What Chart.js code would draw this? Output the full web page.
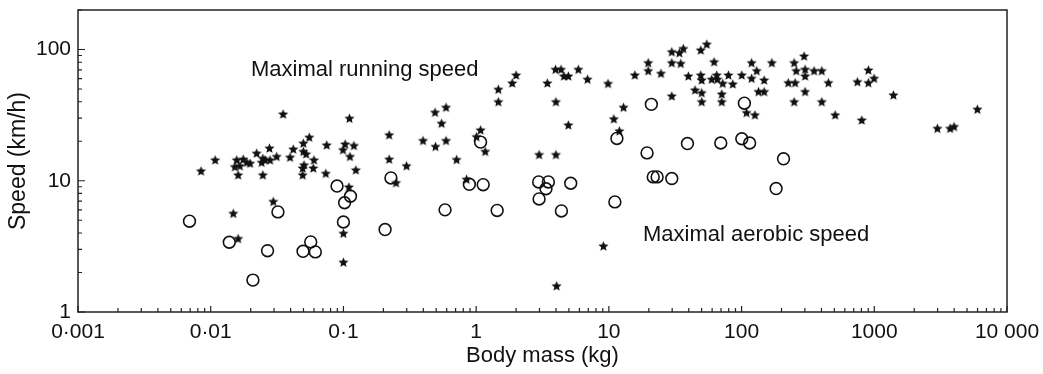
<!DOCTYPE html>
<html>
<head>
<meta charset="utf-8">
<script src="https://cdn.jsdelivr.net/npm/chart.js@4.4.0/dist/chart.umd.min.js"></script>
<style>
  html, body { margin: 0; padding: 0; background: #fff; }
</style>
</head>
<body>
<canvas id="speedChart" width="1043" height="374"></canvas>
<script>
// maximal running speed (stars): body mass kg, speed km/h
const runMass = [0.00845,0.0108,0.0157,0.0176,0.0152,0.0166,0.0161,0.0187,0.0198,0.0222,0.0247,0.0242,0.0257,0.0277,0.0280,0.0314,0.0247,0.0351,0.0396,0.0419,0.0499,0.0553,0.0499,0.0523,0.0505,0.0493,0.0493,0.0600,0.0593,0.0748,0.0736,0.0296,0.0148,0.0161,
  0.0993,0.112,0.103,0.120,0.124,0.111,0.110,0.100,0.100,
  0.221,0.221,0.299,0.249,
  0.490,0.593,0.549,0.398,0.494,0.593,0.712,0.847,
  1.007,1.08,1.17,
  1.47,1.47,1.87,2.0,
  3.44,3.96,4.36,4.59,4.95,5.89,6.91,3.99,4.95,2.98,3.99,4.04,
  9.1,9.86,10.9,12.9,12.0,
  15.7,19.8,19.8,24.7,29.8,34.0,36.4,29.8,34.8,49.3,54.7,62.1,39.7,49.3,50.1,59.6,65.0,65.7,72.1,79.6,85.9,100.4,29.8,44.6,50.1,50.1,70.9,70.9,109,126,
  119,130,119,148,169,134,148,249,296,258,301,352,402,301,225,253,451,301,249,402,507,805,903,746,903,997,1393,2990,3725,3993,5986];
const runSpeed = [11.8,14.3,14.3,14.5,12.7,12.9,11.0,13.7,13.5,16.1,14.7,13.7,14.3,17.6,14.3,15.2,11.0,32.0,15.0,17.3,19.2,21.3,16.6,15.9,13.1,12.4,11.0,14.3,12.4,18.6,11.3,6.9,5.6,3.6,
  17.1,15.2,18.9,18.4,12.0,29.7,8.9,3.95,2.38,
  22.2,14.5,12.9,9.6,
  33.0,36.0,27.2,20.1,18.1,20.1,14.4,10.2,
  21.5,24.2,16.6,
  49.4,39.7,55.1,63.4,
  55.1,70.1,70.1,62.3,62.3,70.1,58.9,39.7,26.4,15.7,15.7,1.57,
  3.16,54.7,29.4,36.0,23.8,
  63.4,78.7,68.4,65.3,95.4,93.7,101,78.7,77.8,98.3,109,80.0,62.3,63.4,58.1,58.9,63.4,58.9,54.8,63.4,54.2,63.4,43.9,48.8,46.5,39.7,45.5,39.7,32.8,31.5,
  78.7,68.4,59.9,58.1,78.7,47.4,47.4,78.7,88.5,68.4,70.1,68.4,68.4,62.3,55.4,55.4,55.4,47.4,39.7,39.7,31.5,28.8,69.2,56.4,55.4,59.9,44.7,24.9,24.9,25.7,34.8];

// maximal aerobic speed (circles)
const aerMass = [0.00692,0.0138,0.0208,0.0268,0.0321,0.0496,0.0567,0.0614,0.0895,0.102,
  0.100,0.113,0.206,0.228,0.583,0.889,1.13,1.08,1.44,2.96,
  3.50,3.36,2.98,5.16,4.39,11.5,11.1,20.9,19.4,21.6,
  23.1,29.8,39.1,69.7,100.4,115,105,207,182];
const aerSpeed = [4.92,3.40,1.75,2.93,5.79,2.90,3.42,2.87,9.11,6.80,
  4.85,7.62,4.25,10.5,6.0,9.4,9.33,19.7,5.94,9.79,
  9.79,8.69,7.27,9.57,5.89,21.0,6.9,38.2,16.3,10.7,
  10.7,10.4,19.2,19.4,20.9,19.4,39.0,14.7,8.72];

const xMajor = [0.001, 0.01, 0.1, 1, 10, 100, 1000, 10000];
const xTickLabels = ['0·001', '0·01', '0·1', '1', '10', '100', '1000', '10 000'];
const yMajor = [1, 10, 100];
const yTickLabels = ['1', '10', '100'];

const ink = '#111';
const fontFamily = '"Liberation Sans", Arial, Helvetica, sans-serif';

function makeStar(r) {
    const size = Math.ceil(r * 2) + 2;
    const c = document.createElement('canvas');
    c.width = size;
    c.height = size;
    const g = c.getContext('2d');
    g.beginPath();
    for (let i = 0; i < 10; i++) {
        const a = -Math.PI / 2 + i * Math.PI / 5;
        const rr = i % 2 ? r * 0.45 : r;
        g.lineTo(size / 2 + rr * Math.cos(a), size / 2 + rr * Math.sin(a));
    }
    g.closePath();
    g.fillStyle = ink;
    g.fill();
    return c;
}

// 1..9 per decade between the first and last major value
function logTicks(majors) {
    const out = [];
    for (let i = 0; i < majors.length - 1; i++) {
        for (let m = 1; m < 10; m++) out.push(majors[i] * m);
    }
    out.push(majors[majors.length - 1]);
    return out;
}

function labelFor(majors, labels, v) {
    const i = majors.findIndex(m => Math.abs(Math.log10(m) - Math.log10(v)) < 1e-6);
    return i >= 0 ? labels[i] : '';
}

function isMajor(majors, v) {
    return majors.some(m => Math.abs(Math.log10(m) - Math.log10(v)) < 1e-6);
}

const framePlugin = {
    id: 'frame',
    afterDatasetsDraw(chart) {
        const { ctx, chartArea: a, scales } = chart;
        ctx.save();
        ctx.strokeStyle = '#222';
        ctx.lineWidth = 1.5;
        ctx.strokeRect(a.left, a.top, a.right - a.left, a.bottom - a.top);

        ctx.lineWidth = 1.2;
        ctx.beginPath();
        scales.x.ticks.forEach(t => {
            const px = scales.x.getPixelForValue(t.value);
            const len = isMajor(xMajor, t.value) ? 6 : 4;
            ctx.moveTo(px, a.bottom);
            ctx.lineTo(px, a.bottom - len);
        });
        scales.y.ticks.forEach(t => {
            const py = scales.y.getPixelForValue(t.value);
            const len = isMajor(yMajor, t.value) ? 7 : 4;
            ctx.moveTo(a.left, py);
            ctx.lineTo(a.left + len, py);
        });
        ctx.stroke();

        ctx.fillStyle = ink;
        ctx.font = '22px ' + fontFamily;
        ctx.textBaseline = 'alphabetic';
        ctx.fillText('Maximal running speed', 251, 76);
        ctx.fillText('Maximal aerobic speed', 643, 241);
        ctx.restore();
    }
};

const ctx = document.getElementById('speedChart').getContext('2d');
new Chart(ctx, {
    type: 'scatter',
    data: {
        datasets: [{
            label: 'Maximal running speed',
            data: runMass.map((m, i) => ({ x: m, y: runSpeed[i] })),
            pointStyle: makeStar(5.3),
            pointRadius: 5
        }, {
            label: 'Maximal aerobic speed',
            data: aerMass.map((m, i) => ({ x: m, y: aerSpeed[i] })),
            pointStyle: 'circle',
            pointRadius: 5.9,
            borderWidth: 1.6,
            borderColor: ink,
            backgroundColor: 'rgba(0,0,0,0)'
        }]
    },
    options: {
        responsive: false,
        animation: false,
        layout: { padding: { top: 10, right: 36, left: 0, bottom: 0 } },
        plugins: { legend: { display: false }, tooltip: { enabled: false } },
        scales: {
            x: {
                type: 'logarithmic',
                min: 0.001,
                max: 10000,
                grid: { display: false, drawTicks: false },
                border: { display: false },
                afterBuildTicks: s => { s.ticks = logTicks(xMajor).map(v => ({ value: v })); },
                afterFit: s => {
                    s.height = 62;
                    s.paddingLeft = 0;
                    s.paddingRight = 0;
                },
                ticks: {
                    autoSkip: false,
                    maxRotation: 0,
                    padding: 8,
                    color: ink,
                    font: { family: fontFamily, size: 21 },
                    callback: v => labelFor(xMajor, xTickLabels, v)
                },
                title: {
                    display: true,
                    text: 'Body mass (kg)',
                    color: ink,
                    font: { family: fontFamily, size: 22 },
                    padding: { top: 0, bottom: 5 }
                }
            },
            y: {
                type: 'logarithmic',
                min: 1,
                max: 200,
                grid: { display: false, drawTicks: false },
                border: { display: false },
                afterBuildTicks: s => { s.ticks = logTicks(yMajor).concat([200]).map(v => ({ value: v })); },
                afterFit: s => {
                    s.width = 78;
                    s.paddingTop = 0;
                    s.paddingBottom = 0;
                },
                ticks: {
                    autoSkip: false,
                    padding: 7,
                    color: ink,
                    font: { family: fontFamily, size: 21 },
                    callback: v => labelFor(yMajor, yTickLabels, v)
                },
                title: {
                    display: true,
                    text: 'Speed (km/h)',
                    color: ink,
                    font: { family: fontFamily, size: 23 },
                    padding: { top: 5, bottom: 0 }
                }
            }
        }
    },
    plugins: [framePlugin]
});
</script>
</body>
</html>
